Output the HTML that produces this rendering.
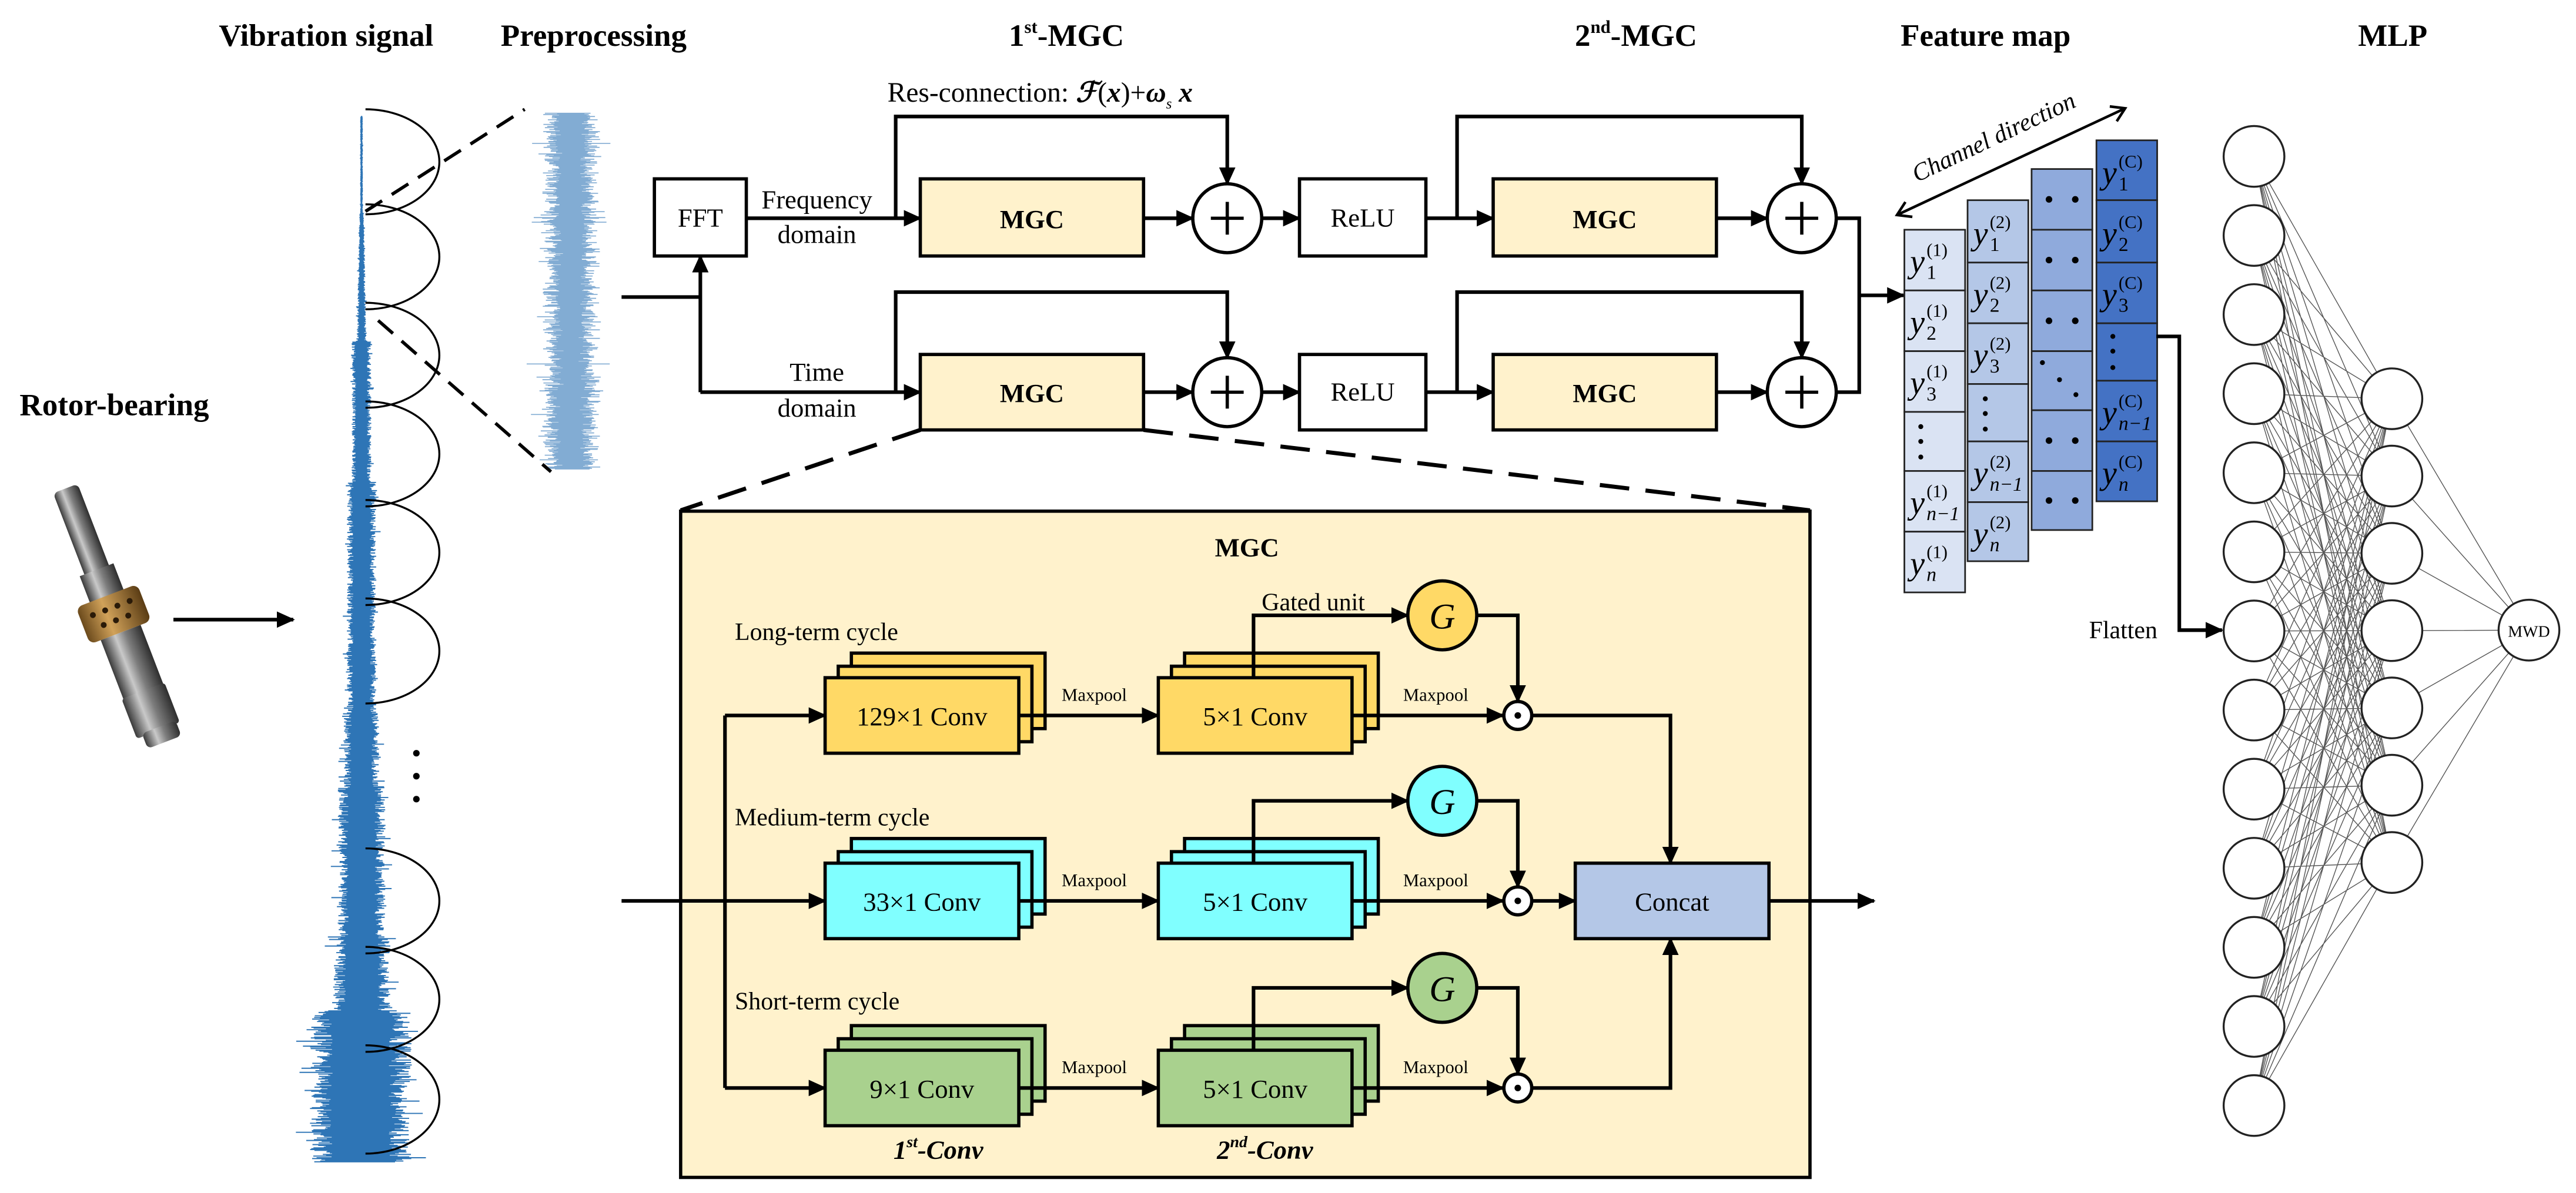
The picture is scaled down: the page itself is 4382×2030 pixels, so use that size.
<!DOCTYPE html>
<html><head><meta charset="utf-8">
<style>
html,body{margin:0;padding:0;background:#fff;}
svg{display:block;}
text{font-family:"Liberation Serif","DejaVu Serif",serif;fill:#000;}
.t{font-size:19px;font-weight:bold;text-anchor:middle;}
.b{font-size:16px;text-anchor:middle;}
.bb{font-size:16px;font-weight:bold;text-anchor:middle;}
.mp{font-size:11px;text-anchor:middle;}
.lb{font-size:15px;}
.yv{font-size:20px;font-style:italic;}
.sp{font-size:11px;}
.sb{font-size:12px;}
.sbi{font-size:12px;font-style:italic;}
.ln{fill:none;stroke:#000;stroke-width:2.2;}
.ar{fill:none;stroke:#000;stroke-width:2.2;marker-end:url(#ah);}
</style></head>
<body>
<svg width="4382" height="2030" viewBox="0 0 1568 727" xmlns="http://www.w3.org/2000/svg">
<defs>
<marker id="ah" markerUnits="userSpaceOnUse" markerWidth="11" markerHeight="10" refX="10" refY="5" orient="auto">
<path d="M0,0 L11,5 L0,10 z" fill="#000"/></marker>
<marker id="ch" markerUnits="userSpaceOnUse" markerWidth="12" markerHeight="12" refX="10" refY="6" orient="auto">
<path d="M2,1 L10,6 L2,11" fill="none" stroke="#000" stroke-width="1.6"/></marker>
<marker id="chs" markerUnits="userSpaceOnUse" markerWidth="12" markerHeight="12" refX="2" refY="6" orient="auto">
<path d="M10,1 L2,6 L10,11" fill="none" stroke="#000" stroke-width="1.6"/></marker>
<linearGradient id="metal" x1="0" x2="1" y1="0" y2="0">
<stop offset="0" stop-color="#3a3a3a"/><stop offset="0.35" stop-color="#c9c9c9"/><stop offset="0.6" stop-color="#7d7d7d"/><stop offset="1" stop-color="#2e2e2e"/></linearGradient>
<linearGradient id="bronze" x1="0" x2="1" y1="0" y2="0">
<stop offset="0" stop-color="#6b4a1c"/><stop offset="0.4" stop-color="#d1a25a"/><stop offset="1" stop-color="#5a3c14"/></linearGradient>
</defs>

<text class="t" x="198" y="28">Vibration signal</text>
<text class="t" x="361" y="28">Preprocessing</text>
<text class="t" x="649" y="28">1<tspan font-size="11" dy="-8">st</tspan><tspan dy="8">-MGC</tspan></text>
<text class="t" x="996" y="28">2<tspan font-size="11" dy="-8">nd</tspan><tspan dy="8">-MGC</tspan></text>
<text class="t" x="1209" y="28">Feature map</text>
<text class="t" x="1457" y="28">MLP</text>
<text class="t" x="69" y="253">Rotor-bearing</text>

<g transform="rotate(-21 70 378)">
<rect x="62" y="292" width="16" height="60" rx="3" fill="url(#metal)"/>
<rect x="59" y="345" width="22" height="22" fill="url(#metal)"/>
<rect x="50" y="362" width="40" height="24" rx="4" fill="url(#bronze)"/>
<circle cx="58" cy="370" r="1.8" fill="#2a1a08"/><circle cx="66" cy="370" r="1.8" fill="#2a1a08"/><circle cx="74" cy="370" r="1.8" fill="#2a1a08"/><circle cx="82" cy="370" r="1.8" fill="#2a1a08"/>
<circle cx="62" cy="378" r="1.8" fill="#2a1a08"/><circle cx="70" cy="378" r="1.8" fill="#2a1a08"/><circle cx="78" cy="378" r="1.8" fill="#2a1a08"/>
<rect x="57" y="386" width="26" height="40" fill="url(#metal)"/>
<rect x="56" y="424" width="28" height="26" rx="2" fill="url(#metal)"/>
<rect x="60" y="448" width="22" height="10" rx="3" fill="url(#metal)"/>
</g>
<path class="ar" d="M105,377.6 H178"/>

<g id="sig"></g>
<g fill="none" stroke="#000" stroke-width="1.2">
<path d="M222,66.6 A45,32 0 0 1 222,130.6"/>
<path d="M222,124.5 A45,32 0 0 1 222,188.5"/>
<path d="M222,184.5 A45,32 0 0 1 222,248.5"/>
<path d="M222,244.6 A45,32 0 0 1 222,308.6"/>
<path d="M222,304.7 A45,32 0 0 1 222,368.7"/>
<path d="M222,364.7 A45,32 0 0 1 222,428.7"/>
<path d="M222,517 A45,32 0 0 1 222,581"/>
<path d="M222,577 A45,32 0 0 1 222,641"/>
<path d="M222,637 A45,33 0 0 1 222,703"/>
</g>
<circle cx="253" cy="459" r="2" fill="#000"/><circle cx="253" cy="473" r="2" fill="#000"/><circle cx="253" cy="487" r="2" fill="#000"/>
<g id="pre"></g>
<path d="M222,128.8 L319,66.6 M229.7,195.3 L335,287.5" fill="none" stroke="#000" stroke-width="2" stroke-dasharray="12 7"/>

<text x="540" y="62" font-size="17">Res-connection: <tspan font-style="italic" font-weight="bold">ℱ</tspan>(<tspan font-style="italic" font-weight="bold">x</tspan>)+<tspan font-style="italic" font-weight="bold">ω</tspan><tspan font-size="9" font-style="italic" dy="4">s</tspan><tspan dy="-4" font-style="italic" font-weight="bold"> x</tspan></text>
<rect x="398" y="109" width="56" height="47" fill="#fff" stroke="#000" stroke-width="2"/>
<text class="b" x="426" y="138">FFT</text>
<text class="b" x="497" y="127">Frequency</text>
<text class="b" x="497" y="148">domain</text>
<text class="b" x="497" y="232">Time</text>
<text class="b" x="497" y="254">domain</text>
<path class="ln" d="M378,181 H426"/>
<path class="ar" d="M426,239 V156"/>
<path class="ar" d="M426,239 H560"/>
<path class="ar" d="M454,133 H560"/>

<path class="ar" d="M545,133 V71 H747 V112"/>
<rect x="560" y="109" width="136" height="47" fill="#FFF2CC" stroke="#000" stroke-width="2"/>
<text class="bb" x="628" y="139">MGC</text>
<path class="ar" d="M696,133 H726"/>
<circle cx="747" cy="133" r="21" fill="#fff" stroke="#000" stroke-width="2"/>
<path d="M737,133 H757 M747,123 V143" stroke="#000" stroke-width="2"/>
<path class="ar" d="M768,133 H791"/>
<rect x="791" y="109" width="77" height="47" fill="#fff" stroke="#000" stroke-width="2"/>
<text class="b" x="829.5" y="138">ReLU</text>
<path class="ar" d="M868,133 H909"/>
<path class="ar" d="M887,133 V71 H1097 V112"/>
<rect x="909" y="109" width="136" height="47" fill="#FFF2CC" stroke="#000" stroke-width="2"/>
<text class="bb" x="977" y="139">MGC</text>
<path class="ar" d="M1045,133 H1076"/>
<circle cx="1097" cy="133" r="21" fill="#fff" stroke="#000" stroke-width="2"/>
<path d="M1087,133 H1107 M1097,123 V143" stroke="#000" stroke-width="2"/>

<path class="ar" d="M545,239 V178 H747 V218"/>
<rect x="560" y="216" width="136" height="46" fill="#FFF2CC" stroke="#000" stroke-width="2"/>
<text class="bb" x="628" y="245">MGC</text>
<path class="ar" d="M696,239 H726"/>
<circle cx="747" cy="239" r="21" fill="#fff" stroke="#000" stroke-width="2"/>
<path d="M737,239 H757 M747,229 V249" stroke="#000" stroke-width="2"/>
<path class="ar" d="M768,239 H791"/>
<rect x="791" y="216" width="77" height="46" fill="#fff" stroke="#000" stroke-width="2"/>
<text class="b" x="829.5" y="244">ReLU</text>
<path class="ar" d="M868,239 H909"/>
<path class="ar" d="M887,239 V178 H1097 V218"/>
<rect x="909" y="216" width="136" height="46" fill="#FFF2CC" stroke="#000" stroke-width="2"/>
<text class="bb" x="977" y="245">MGC</text>
<path class="ar" d="M1045,239 H1076"/>
<circle cx="1097" cy="239" r="21" fill="#fff" stroke="#000" stroke-width="2"/>
<path d="M1087,239 H1107 M1097,229 V249" stroke="#000" stroke-width="2"/>

<path class="ln" d="M1118,133 H1132 V239 H1118"/>
<path class="ar" d="M1132,180 H1159"/>

<path d="M560,262 L414,311 M696,262 L1102,311" fill="none" stroke="#000" stroke-width="2.5" stroke-dasharray="18 10"/>

<rect x="414" y="311.5" width="688" height="406" fill="#FFF2CC" stroke="#000" stroke-width="2"/>
<text class="bb" x="759" y="339" font-size="17">MGC</text>
<text class="lb" x="447" y="390">Long-term cycle</text>
<text class="lb" x="447" y="503">Medium-term cycle</text>
<text class="lb" x="447" y="615">Short-term cycle</text>
<text class="lb" x="768" y="372">Gated unit</text>

<path class="ln" d="M441,436 V663"/>
<path class="ar" d="M378,549 H502"/>
<path class="ar" d="M441,436 H502"/>
<path class="ar" d="M441,663 H502"/>

<g stroke="#000" stroke-width="2" fill="#FFD966">
<rect x="518" y="398" width="118" height="46"/><rect x="510" y="406" width="118" height="46"/><rect x="502" y="413" width="118" height="46"/>
<rect x="721" y="398" width="118" height="46"/><rect x="713" y="406" width="118" height="46"/><rect x="705" y="413" width="118" height="46"/>
</g>
<text class="b" x="561" y="442">129×1 Conv</text>
<text class="b" x="764" y="442">5×1 Conv</text>
<g stroke="#000" stroke-width="2" fill="#80FFFF">
<rect x="518" y="511" width="118" height="46"/><rect x="510" y="519" width="118" height="46"/><rect x="502" y="526" width="118" height="46"/>
<rect x="721" y="511" width="118" height="46"/><rect x="713" y="519" width="118" height="46"/><rect x="705" y="526" width="118" height="46"/>
</g>
<text class="b" x="561" y="555">33×1 Conv</text>
<text class="b" x="764" y="555">5×1 Conv</text>
<g stroke="#000" stroke-width="2" fill="#A9D18E">
<rect x="518" y="625" width="118" height="46"/><rect x="510" y="633" width="118" height="46"/><rect x="502" y="640" width="118" height="46"/>
<rect x="721" y="625" width="118" height="46"/><rect x="713" y="633" width="118" height="46"/><rect x="705" y="640" width="118" height="46"/>
</g>
<text class="b" x="561" y="669">9×1 Conv</text>
<text class="b" x="764" y="669">5×1 Conv</text>

<text class="mp" x="666" y="427">Maxpool</text><text class="mp" x="874" y="427">Maxpool</text>
<text class="mp" x="666" y="540">Maxpool</text><text class="mp" x="874" y="540">Maxpool</text>
<text class="mp" x="666" y="654">Maxpool</text><text class="mp" x="874" y="654">Maxpool</text>

<path class="ar" d="M620,436 H705"/><path class="ar" d="M823,436 H915"/>
<path class="ar" d="M620,549 H705"/><path class="ar" d="M823,549 H915"/>
<path class="ar" d="M620,663 H705"/><path class="ar" d="M823,663 H915"/>

<path class="ar" d="M763,413 V375 H857"/>
<path class="ar" d="M763,526 V488 H857"/>
<path class="ar" d="M763,640 V602 H857"/>

<circle cx="878" cy="375" r="21" fill="#FFD966" stroke="#000" stroke-width="2"/>
<circle cx="878" cy="488" r="21" fill="#80FFFF" stroke="#000" stroke-width="2"/>
<circle cx="878" cy="602" r="21" fill="#A9D18E" stroke="#000" stroke-width="2"/>
<text x="878" y="383" font-size="22" font-style="italic" text-anchor="middle">G</text>
<text x="878" y="496" font-size="22" font-style="italic" text-anchor="middle">G</text>
<text x="878" y="610" font-size="22" font-style="italic" text-anchor="middle">G</text>

<path class="ar" d="M899,375 H924 V427.5"/>
<path class="ar" d="M899,488 H924 V540.5"/>
<path class="ar" d="M899,602 H924 V654.5"/>

<g fill="#fff" stroke="#000" stroke-width="2">
<circle cx="924" cy="436" r="8.5"/><circle cx="924" cy="549" r="8.5"/><circle cx="924" cy="663" r="8.5"/></g>
<circle cx="924" cy="436" r="2" fill="#000"/><circle cx="924" cy="549" r="2" fill="#000"/><circle cx="924" cy="663" r="2" fill="#000"/>

<path class="ar" d="M932.5,436 H1017 V526"/>
<path class="ar" d="M932.5,549 H959"/>
<path class="ar" d="M932.5,663 H1017 V572"/>
<rect x="959" y="526" width="118" height="46" fill="#B4C7E7" stroke="#000" stroke-width="2"/>
<text class="b" x="1018" y="555">Concat</text>
<path class="ar" d="M1077,549 H1141"/>

<text x="571" y="706" font-size="16" font-weight="bold" font-style="italic" text-anchor="middle">1<tspan font-size="10" dy="-7">st</tspan><tspan dy="7">-Conv</tspan></text>
<text x="770" y="706" font-size="16" font-weight="bold" font-style="italic" text-anchor="middle">2<tspan font-size="10" dy="-7">nd</tspan><tspan dy="7">-Conv</tspan></text>

<g stroke="#222" stroke-width="1">
<g fill="#DAE3F3"><rect x="1159.5" y="140" width="37" height="37"/><rect x="1159.5" y="177" width="37" height="37"/><rect x="1159.5" y="214" width="37" height="37"/><rect x="1159.5" y="251" width="37" height="36"/><rect x="1159.5" y="287" width="37" height="37"/><rect x="1159.5" y="324" width="37" height="37"/></g>
<g fill="#B4C7E7"><rect x="1198" y="122" width="37" height="38"/><rect x="1198" y="160" width="37" height="37"/><rect x="1198" y="197" width="37" height="37"/><rect x="1198" y="234" width="37" height="35"/><rect x="1198" y="269" width="37" height="37"/><rect x="1198" y="306" width="37" height="36"/></g>
<g fill="#8FAADC"><rect x="1237" y="103" width="37" height="37"/><rect x="1237" y="140" width="37" height="37"/><rect x="1237" y="177" width="37" height="37"/><rect x="1237" y="214" width="37" height="36"/><rect x="1237" y="250" width="37" height="37"/><rect x="1237" y="287" width="37" height="36"/></g>
<g fill="#4472C4"><rect x="1276.5" y="85.5" width="37" height="36.5"/><rect x="1276.5" y="122" width="37" height="38"/><rect x="1276.5" y="160" width="37" height="37"/><rect x="1276.5" y="197" width="37" height="35"/><rect x="1276.5" y="232" width="37" height="37"/><rect x="1276.5" y="269" width="37" height="36.5"/></g>
</g>
<text class="yv" x="1163" y="166">y</text><text class="sp" x="1173" y="156">(1)</text><text class="sb" x="1173" y="170">1</text>
<text class="yv" x="1163" y="203">y</text><text class="sp" x="1173" y="193">(1)</text><text class="sb" x="1173" y="207">2</text>
<text class="yv" x="1163" y="240">y</text><text class="sp" x="1173" y="230">(1)</text><text class="sb" x="1173" y="244">3</text>
<text class="yv" x="1163" y="313">y</text><text class="sp" x="1173" y="303">(1)</text><text class="sbi" x="1173" y="317">n−1</text>
<text class="yv" x="1163" y="350">y</text><text class="sp" x="1173" y="340">(1)</text><text class="sbi" x="1173" y="354">n</text>
<text class="yv" x="1201.5" y="149">y</text><text class="sp" x="1211.5" y="139">(2)</text><text class="sb" x="1211.5" y="153">1</text>
<text class="yv" x="1201.5" y="186">y</text><text class="sp" x="1211.5" y="176">(2)</text><text class="sb" x="1211.5" y="190">2</text>
<text class="yv" x="1201.5" y="223">y</text><text class="sp" x="1211.5" y="213">(2)</text><text class="sb" x="1211.5" y="227">3</text>
<text class="yv" x="1201.5" y="295">y</text><text class="sp" x="1211.5" y="285">(2)</text><text class="sbi" x="1211.5" y="299">n−1</text>
<text class="yv" x="1201.5" y="332">y</text><text class="sp" x="1211.5" y="322">(2)</text><text class="sbi" x="1211.5" y="336">n</text>
<text class="yv" x="1280" y="112">y</text><text class="sp" x="1290" y="102">(C)</text><text class="sb" x="1290" y="116">1</text>
<text class="yv" x="1280" y="149">y</text><text class="sp" x="1290" y="139">(C)</text><text class="sb" x="1290" y="153">2</text>
<text class="yv" x="1280" y="186">y</text><text class="sp" x="1290" y="176">(C)</text><text class="sb" x="1290" y="190">3</text>
<text class="yv" x="1280" y="258">y</text><text class="sp" x="1290" y="248">(C)</text><text class="sbi" x="1290" y="262">n−1</text>
<text class="yv" x="1280" y="295">y</text><text class="sp" x="1290" y="285">(C)</text><text class="sbi" x="1290" y="299">n</text>
<g fill="#000">
<circle cx="1169.5" cy="260" r="1.5"/><circle cx="1169.5" cy="269" r="1.5"/><circle cx="1169.5" cy="278.5" r="1.5"/>
<circle cx="1208.8" cy="243" r="1.5"/><circle cx="1208.8" cy="252" r="1.5"/><circle cx="1208.8" cy="261.5" r="1.5"/>
<circle cx="1286.5" cy="205" r="1.5"/><circle cx="1286.5" cy="214" r="1.5"/><circle cx="1286.5" cy="224" r="1.5"/>
<circle cx="1247.6" cy="121.5" r="2"/><circle cx="1263.6" cy="121.5" r="2"/>
<circle cx="1247.6" cy="158.5" r="2"/><circle cx="1263.6" cy="158.5" r="2"/>
<circle cx="1247.6" cy="195.5" r="2"/><circle cx="1263.6" cy="195.5" r="2"/>
<circle cx="1243.6" cy="221" r="1.5"/><circle cx="1254" cy="231.4" r="1.5"/><circle cx="1264" cy="240.5" r="1.5"/>
<circle cx="1247.6" cy="268.5" r="2"/><circle cx="1263.6" cy="268.5" r="2"/>
<circle cx="1247.6" cy="305" r="2"/><circle cx="1263.6" cy="305" r="2"/>
</g>
<path d="M1155,131 L1294,66" fill="none" stroke="#000" stroke-width="1.6" marker-end="url(#ch)" marker-start="url(#chs)"/>
<text x="1216" y="88" font-size="15" font-style="italic" text-anchor="middle" transform="rotate(-25.4 1216 88)">Channel direction</text>

<path class="ar" d="M1313,205 H1327 V384 H1353"/>
<text x="1272" y="389" font-size="15">Flatten</text>

<g id="mlpl" stroke="#555" stroke-width="0.5"></g>
<g id="mlpc" fill="#fff" stroke="#222" stroke-width="1.2"></g>
<text x="1540" y="388" font-size="10" text-anchor="middle">MWD</text>

<script>
(function(){
var NS="http://www.w3.org/2000/svg";
var seed=7;function r(){seed=(seed*16807)%2147483647;return seed/2147483647;}
function hw(y){
 if(y<130)return 0.8; if(y<208)return 1.4+(y-130)/78*1.6;
 if(y<294)return 6;if(y<435)return 9;if(y<480)return 11;if(y<571)return 14.5;if(y<616)return 17.5;return 31;}
var d="",d2="";
for(var y=71;y<=708;y+=0.5){var h=hw(y);var c=219.6+(y>616?-0.5:0);
 var a=c-h*(0.55+0.45*r())-(r()<0.05?h*0.3:0), b=c+h*(0.55+0.45*r())+(r()<0.05?h*0.3:0);
 d+="M"+a.toFixed(1)+","+y+"H"+b.toFixed(1);}
var p=document.createElementNS(NS,"path");p.setAttribute("d",d);p.setAttribute("stroke","#2E75B6");p.setAttribute("stroke-width","0.7");
document.getElementById("sig").appendChild(p);
for(var y=69;y<=286;y+=0.4){var w=9+r()*10+(r()<0.08?r()*10:0);var c=347+(r()-0.5)*3;
 d2+="M"+(c-w*(0.6+0.4*r())).toFixed(1)+","+y.toFixed(1)+"H"+(c+w*(0.6+0.4*r())).toFixed(1);}
var q=document.createElementNS(NS,"path");q.setAttribute("d",d2);q.setAttribute("stroke","#2E75B6");q.setAttribute("stroke-opacity","0.6");q.setAttribute("stroke-width","0.6");
document.getElementById("pre").appendChild(q);
var L=document.getElementById("mlpl"),C=document.getElementById("mlpc");
var inp=[],hid=[];for(var i=0;i<13;i++)inp.push(95.3+48.2*i);for(var j=0;j<7;j++)hid.push(243+47.1*j);
var ld="";inp.forEach(function(a){hid.forEach(function(b){ld+="M1372.5,"+a.toFixed(1)+"L1456.5,"+b.toFixed(1);});});
hid.forEach(function(b){ld+="M1456.5,"+b.toFixed(1)+"L1540,384";});
var lp=document.createElementNS(NS,"path");lp.setAttribute("d",ld);L.appendChild(lp);
function circ(x,y){var e=document.createElementNS(NS,"ellipse");e.setAttribute("cx",x);e.setAttribute("cy",y);e.setAttribute("rx",18.5);e.setAttribute("ry",18.5);C.appendChild(e);}
inp.forEach(function(a){circ(1372.5,a);});hid.forEach(function(b){circ(1456.5,b);});circ(1540,384);
})();
</script>
</svg>
</body></html>
